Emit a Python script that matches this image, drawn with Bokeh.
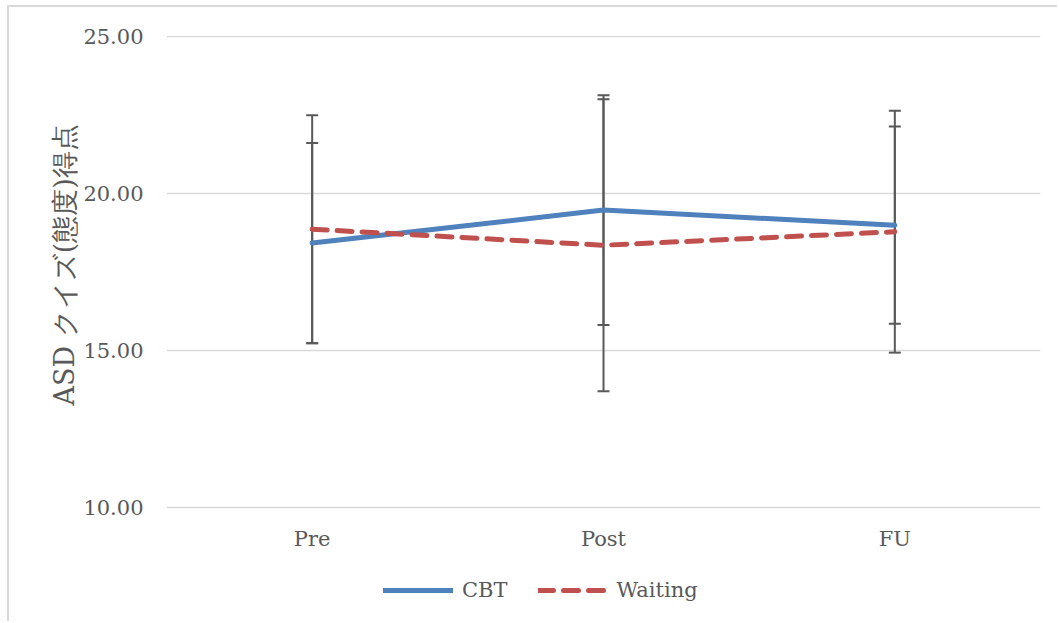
from bokeh.plotting import figure
from bokeh.models import (Range1d, FixedTicker, NumeralTickFormatter, Legend,
                          LegendItem, Title)
from bokeh.embed import file_html
from bokeh.resources import INLINE

# Mean ASD quiz (attitude) scores with SD, by assessment phase
phases = ["Pre", "Post", "FU"]
cbt_mean = [18.41, 19.46, 18.98]
cbt_sd = [3.19, 3.66, 3.14]
wait_mean = [18.85, 18.34, 18.77]
wait_sd = [3.63, 4.65, 3.85]
y_ticks = [10, 15, 20, 25]
y_title = "ASD クイズ(態度)得点"

xs = list(range(len(phases)))

FONT = "DejaVu Serif"
TEXT = "#595959"
BLUE = "#4f81bd"
RED = "#c0504d"
BAR = "#595959"

# the plot frame runs down to the bottom edge so the legend can sit
# inside it, below the category axis (pinned at y = 10)
p = figure(width=1050, height=616, output_backend="svg", toolbar_location=None,
           x_range=Range1d(-0.5, len(phases) - 0.5),
           y_range=Range1d(6.294, 25.02),
           min_border_left=157, min_border_right=19, min_border_top=28,
           min_border_bottom=0)
# thin light frame around the chart area
p.margin = (5, 0, 0, 7)
p.styles = {"border-top": "2px solid #d9d9d9",
            "border-left": "2px solid #d9d9d9"}
p.background_fill_color = "white"
p.border_fill_color = "white"
p.outline_line_color = None

# axes
p.xaxis.ticker = FixedTicker(ticks=xs)
p.xaxis.fixed_location = 10
p.xaxis.major_label_overrides = {i: name for i, name in enumerate(phases)}
p.yaxis.ticker = FixedTicker(ticks=y_ticks)
p.yaxis.formatter = NumeralTickFormatter(format="0.00")
for ax in (p.xaxis, p.yaxis):
    ax.axis_line_color = None
    ax.major_tick_line_color = None
    ax.minor_tick_line_color = None
    ax.major_tick_out = 0
    ax.major_tick_in = 0
    ax.major_label_text_font = FONT
    ax.major_label_text_font_size = "21px"
    ax.major_label_text_color = TEXT
p.xaxis.major_label_standoff = 20
p.yaxis.major_label_standoff = 23

# vertical axis title, anchored at its start so it sits beside the 10–25 scale
p.add_layout(Title(text=y_title, align="left", offset=218, standoff=2,
                   text_font=FONT, text_font_size="27px",
                   text_font_style="normal", text_color=TEXT), "left")

p.xgrid.grid_line_color = None
p.ygrid.grid_line_color = "#d9d9d9"
p.ygrid.grid_line_width = 1.5

# error bars (mean ± SD)
for mean, sd in ((cbt_mean, cbt_sd), (wait_mean, wait_sd)):
    lo = [m - s for m, s in zip(mean, sd)]
    hi = [m + s for m, s in zip(mean, sd)]
    p.segment(x0=xs, y0=lo, x1=xs, y1=hi, line_color=BAR, line_width=2)
    p.dash(x=xs, y=lo, size=12, line_color=BAR, line_width=2)
    p.dash(x=xs, y=hi, size=12, line_color=BAR, line_width=2)

cbt = p.line(xs, cbt_mean, line_color=BLUE, line_width=5, line_cap="round",
             line_join="round")
wait = p.line(xs, wait_mean, line_color=RED, line_width=5, line_cap="round",
              line_join="round", line_dash="15 10")

legend = Legend(items=[LegendItem(label="CBT", renderers=[cbt]),
                       LegendItem(label="Waiting", renderers=[wait])],
                orientation="horizontal", location=(217, 21),
                glyph_width=70, glyph_height=20, label_height=20,
                label_standoff=9, spacing=30, padding=0, margin=0,
                border_line_color=None, background_fill_alpha=0,
                label_text_font=FONT, label_text_font_size="21px",
                label_text_color=TEXT)
p.add_layout(legend, "center")

open("out.html", "w").write(file_html(p, INLINE))
